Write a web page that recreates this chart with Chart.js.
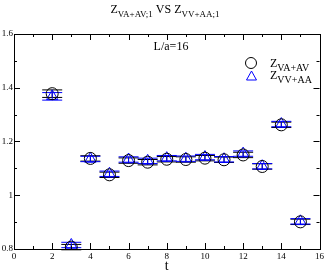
<!DOCTYPE html>
<html><head><meta charset="utf-8">
<script src="https://cdn.jsdelivr.net/npm/chart.js@4.4.0/dist/chart.umd.min.js"></script>
<style>html,body{margin:0;padding:0;background:#fff}#w{width:327px;height:273px}</style>
</head><body><div id="w"><canvas id="c" width="327" height="273"></canvas></div>
<script>
const tValues = [2,3,4,5,6,7,8,9,10,11,12,13,14,15];
const zVA = [1.378,0.807,1.137,1.076,1.129,1.123,1.134,1.133,1.138,1.132,1.150,1.107,1.262,0.901];
const zVAerr = [0.014,0.010,0.010,0.010,0.010,0.010,0.010,0.010,0.010,0.010,0.010,0.010,0.010,0.010];
const zVV = [1.368,0.815,1.135,1.080,1.133,1.128,1.138,1.136,1.142,1.134,1.155,1.108,1.265,0.903];
const zVVerr = [0.014,0.010,0.010,0.010,0.010,0.010,0.010,0.010,0.010,0.010,0.010,0.010,0.010,0.010];
const xTicks = [0,2,4,6,8,10,12,14,16];
const yTicks = [0.8,1.0,1.2,1.4,1.6];
const yTickLabels = ['0.8','1','1.2','1.4','1.6'];

const SERIF = '"Liberation Serif","DejaVu Serif",serif';
const pts = (ys) => tValues.map((t,i)=>({x:t,y:ys[i]}));

function drawZ(ctx, x, y, main, sub, size, subSize, color){
  ctx.fillStyle = color || '#000';
  ctx.textBaseline = 'alphabetic';
  ctx.textAlign = 'left';
  ctx.font = size + 'px ' + SERIF;
  ctx.fillText(main, x, y);
  let w = ctx.measureText(main).width;
  ctx.font = subSize + 'px ' + SERIF;
  ctx.fillText(sub, x + w, y + size*0.3);
  return w + ctx.measureText(sub).width;
}

const errPlugin = {
  id:'err',
  beforeDatasetsDraw(chart){
    const ctx = chart.ctx, xs = chart.scales.x, ys = chart.scales.y;
    const sets = [[zVA,zVAerr,'#000'],[zVV,zVVerr,'#0000ff']];
    ctx.save();
    ctx.lineWidth = 1;
    sets.forEach(([v,e,col])=>{
      ctx.strokeStyle = col;
      tValues.forEach((t,i)=>{
        const px = xs.getPixelForValue(t);
        const y1 = ys.getPixelForValue(v[i]+e[i]);
        const y2 = ys.getPixelForValue(v[i]-e[i]);
        ctx.beginPath();
        ctx.moveTo(px,y1);ctx.lineTo(px,y2);
        ctx.moveTo(px-10,y1);ctx.lineTo(px+10,y1);
        ctx.moveTo(px-10,y2);ctx.lineTo(px+10,y2);
        ctx.stroke();
      });
    });
    ctx.restore();
  },
  afterDraw(chart){
    const ctx = chart.ctx, xs = chart.scales.x, ys = chart.scales.y, a = chart.chartArea;
    ctx.save();
    ctx.strokeStyle = '#000'; ctx.lineWidth = 1;
    ctx.strokeRect(Math.round(a.left)+0.5, Math.round(a.top)+0.5, Math.round(a.right-a.left), Math.round(a.bottom-a.top));
    ctx.beginPath();
    for(let t=0;t<=16;t++){
      const px = Math.round(xs.getPixelForValue(t))+0.5;
      const L = t%2===0?6:3;
      ctx.moveTo(px,a.bottom);ctx.lineTo(px,a.bottom-L);
      ctx.moveTo(px,a.top);ctx.lineTo(px,a.top+L);
    }
    for(let k=0;k<=8;k++){
      const v = 0.8+k*0.1;
      const py = Math.round(ys.getPixelForValue(v))+0.5;
      const L = k%2===0?6:3;
      ctx.moveTo(a.left,py);ctx.lineTo(a.left+L,py);
      ctx.moveTo(a.right,py);ctx.lineTo(a.right-L,py);
    }
    ctx.stroke();
    // tick labels
    ctx.fillStyle='#000';
    ctx.font = '9px ' + SERIF;
    ctx.textAlign='center'; ctx.textBaseline='top';
    xTicks.forEach(t=>ctx.fillText(String(t), xs.getPixelForValue(t), a.bottom+3));
    ctx.textAlign='right'; ctx.textBaseline='middle';
    yTicks.forEach((v,i)=>ctx.fillText(yTickLabels[i], a.left-1, ys.getPixelForValue(v)));
    // axis label
    ctx.font = '14px ' + SERIF; ctx.textAlign='center'; ctx.textBaseline='alphabetic';
    ctx.fillText('t', (a.left+a.right)/2, 270);
    // title
    const parts = [['Z','VA+AV;1'],[' VS Z','VV+AA;1']];
    let total = 0;
    parts.forEach(([m,s])=>{ctx.font='12px '+SERIF; total+=ctx.measureText(m).width; ctx.font='9px '+SERIF; total+=ctx.measureText(s).width;});
    let x0 = 165 - total/2;
    parts.forEach(([m,s])=>{ x0 += drawZ(ctx, x0, 13, m, s, 12, 9, '#000'); });
    // L/a label
    ctx.font = '12px ' + SERIF; ctx.textAlign='center'; ctx.fillStyle='#000';
    ctx.fillText('L/a=16', 171, 50);
    // legend
    ctx.strokeStyle='#000'; ctx.lineWidth=1;
    ctx.beginPath(); ctx.arc(251,63,5.5,0,Math.PI*2); ctx.stroke();
    drawZ(ctx, 270, 67, 'Z', 'VA+AV', 12, 10, '#000');
    ctx.strokeStyle='#0000ff';
    ctx.beginPath(); ctx.moveTo(251.5,71); ctx.lineTo(256.5,80); ctx.lineTo(246.5,80); ctx.closePath(); ctx.stroke();
    drawZ(ctx, 270, 79, 'Z', 'VV+AA', 12, 10, '#000');
    ctx.restore();
  }
};

new Chart(document.getElementById('c'), {
  type:'scatter',
  data:{datasets:[
    {label:'ZVA', data:pts(zVA), pointStyle:'circle', pointRadius:6, pointHoverRadius:6, borderColor:'#000', backgroundColor:'rgba(0,0,0,0)', borderWidth:1},
    {label:'ZVV', data:pts(zVV), pointStyle:'triangle', pointRadius:6.5, pointHoverRadius:6.5, borderColor:'#0000ff', backgroundColor:'rgba(0,0,0,0)', borderWidth:1}
  ]},
  options:{
    responsive:false, animation:false, devicePixelRatio:1,
    layout:{padding:{left:14,right:5,top:34,bottom:24}},
    plugins:{legend:{display:false}, tooltip:{enabled:false}, title:{display:false}},
    scales:{
      x:{type:'linear', min:0, max:16, display:false},
      y:{type:'linear', min:0.8, max:1.6, display:false}
    }
  },
  plugins:[errPlugin]
});
</script></body></html>
